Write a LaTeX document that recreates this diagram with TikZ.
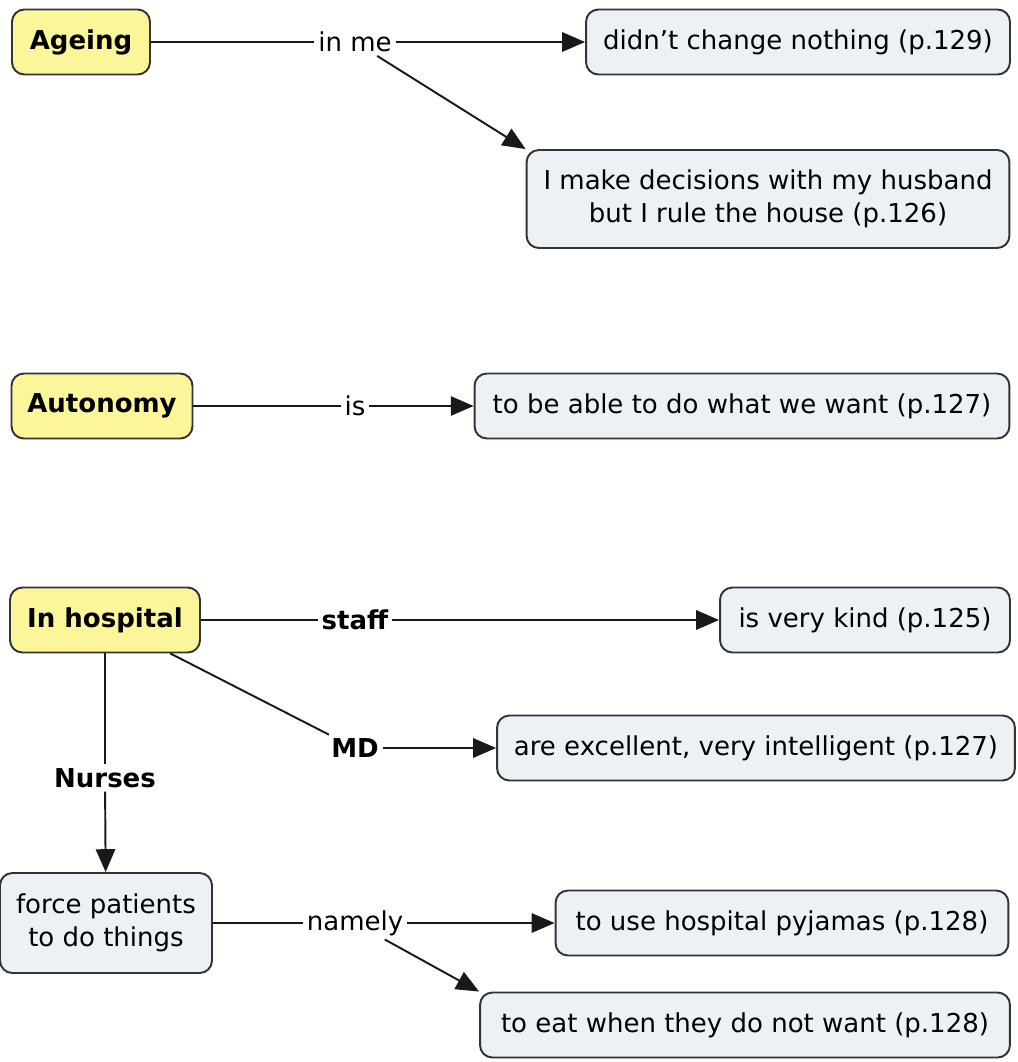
\documentclass[tikz,border=0pt]{standalone}
\usepackage{fontspec}
\setmainfont{DejaVu Sans}
\usetikzlibrary{arrows.meta}
\definecolor{conceptfill}{HTML}{FBF69A}
\definecolor{leaffill}{HTML}{EBF1F5}
\definecolor{boxline}{HTML}{333333}
\newcommand{\mapfont}{\fontsize{14.8}{19}\selectfont}
\tikzset{
  concept/.style={draw=boxline, fill=conceptfill, rounded corners=7pt, line width=1.1pt,
                  minimum height=1.3cm, inner xsep=0.2cm, font=\mapfont\bfseries},
  leaf/.style={draw=boxline, fill=leaffill, rounded corners=7pt, line width=1.1pt,
               minimum height=1.3cm, inner xsep=0.2cm, align=center, font=\mapfont},
  linkword/.style={fill=white, inner sep=2pt, font=\mapfont},
  boldlink/.style={linkword, font=\mapfont\bfseries},
  link/.style={line width=1.1pt, draw=black!90},
  linkarrow/.style={link, -{Triangle[length=13pt, width=11pt]}},
}

\begin{document}
\begin{tikzpicture}[x=0.02cm, y=-0.02cm]
    \useasboundingbox (0,0) rectangle (1018,1062);
    % ageing
    \node[concept, minimum width=2.76cm] (ageing) at (81,42) {Ageing};
    \node[linkword] (inme) at (355,42) {in me};
    \node[leaf, minimum width=8.48cm] (nochange) at (798,42) {didn't change nothing (p.129)};
    \node[leaf, minimum width=9.66cm, minimum height=1.96cm] (decide) at (768,199) {I make decisions with my husband\\but I rule the house (p.126)};
    \draw[link] (ageing) -- (inme);
    \draw[linkarrow] (inme) -- (nochange);
    \draw[linkarrow] (inme) -- (decide.north west);
    % autonomy
    \node[concept, minimum width=3.62cm] (autonomy) at (102,406) {Autonomy};
    \node[linkword] (is) at (355,406) {is};
    \node[leaf, minimum width=10.7cm] (able) at (742,406) {to be able to do what we want (p.127)};
    \draw[link] (autonomy) -- (is);
    \draw[linkarrow] (is) -- (able);
    % hospital
    \node[concept, minimum width=3.8cm] (hosp) at (105,620) {In hospital};
    \node[boldlink] (staff) at (355,620) {staff};
    \node[leaf, minimum width=5.8cm] (kind) at (865,620) {is very kind (p.125)};
    \node[boldlink] (md) at (355,748) {MD};
    \node[leaf, minimum width=10.36cm] (excellent) at (756,748) {are excellent, very intelligent (p.127)};
    \node[boldlink] (nurses) at (105,778) {Nurses};
    \node[leaf, minimum width=4.24cm, minimum height=2cm] (force) at (106,923) {force patients\\to do things};
    \node[linkword] (namely) at (355,923) {namely};
    \node[leaf, minimum width=9.06cm] (pyjamas) at (782,923) {to use hospital pyjamas (p.128)};
    \node[leaf, minimum width=10.6cm] (eat) at (745,1025) {to eat when they do not want (p.128)};
    \draw[link] (hosp) -- (staff);
    \draw[linkarrow] (staff) -- (kind);
    \draw[link] (hosp) -- (md);
    \draw[linkarrow] (md) -- (excellent);
    \draw[link] (hosp) -- (nurses);
    \draw[linkarrow] (nurses) -- (force);
    \draw[link] (force) -- (namely);
    \draw[linkarrow] (namely) -- (pyjamas);
    \draw[linkarrow] (namely) -- (eat.north west);
\end{tikzpicture}
\end{document}
